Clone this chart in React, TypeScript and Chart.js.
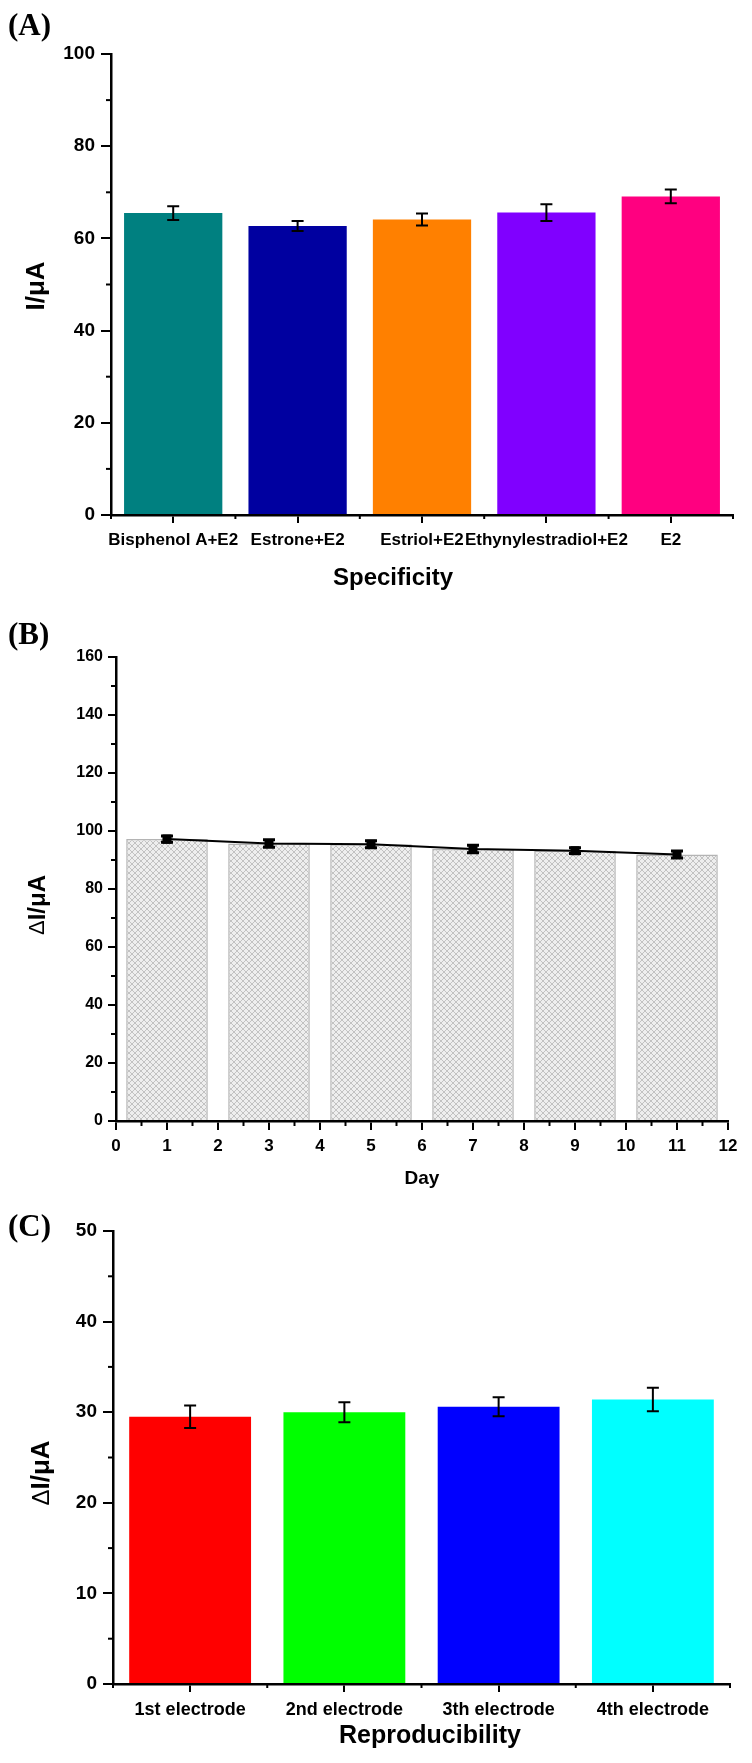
import React, { useEffect, useRef } from "react";
import { Chart, registerables } from "chart.js";

Chart.register(...registerables);

// ---------- data ----------
const specCategories = ["Bisphenol A+E2", "Estrone+E2", "Estriol+E2", "Ethynylestradiol+E2", "E2"];
const specValues = [65.5, 62.7, 64.1, 65.6, 69.1];
const specErrors = [1.5, 1.1, 1.3, 1.8, 1.5];
const specColors = ["#008080", "#0000A0", "#FF8000", "#8000FF", "#FF0080"];

const stabDays = [1, 3, 5, 7, 9, 11];
const stabValues = [97.2, 95.7, 95.4, 93.8, 93.2, 91.9];
const stabErrors = [1.1, 1.3, 1.2, 1.3, 1.0, 1.2];

const reproCategories = ["1st electrode", "2nd electrode", "3th electrode", "4th electrode"];
const reproValues = [29.5, 30.0, 30.6, 31.4];
const reproErrors = [1.25, 1.1, 1.05, 1.3];
const reproColors = ["#FF0000", "#00FF00", "#0000FF", "#00FFFF"];

const SANS = "'Liberation Sans', Arial, Helvetica, sans-serif";
const SERIF = "'Liberation Serif', 'Times New Roman', serif";

// ---------- plugins ----------
const minorTickPlugin = {
  id: "minorTicks",
  afterDraw(chart: any, _a: any, opts: any) {
    const { ctx, chartArea } = chart;
    const items = (opts && opts.items) || [];
    ctx.save();
    ctx.strokeStyle = "#000";
    ctx.lineWidth = 2;
    for (const it of items) {
      const scale = chart.scales[it.scale];
      for (let v = it.from; v <= it.to + 1e-9; v += it.step) {
        const p = scale.getPixelForValue(v);
        ctx.beginPath();
        if (scale.isHorizontal()) {
          ctx.moveTo(p, chartArea.bottom);
          ctx.lineTo(p, chartArea.bottom + it.length);
        } else {
          ctx.moveTo(chartArea.left, p);
          ctx.lineTo(chartArea.left - it.length, p);
        }
        ctx.stroke();
      }
    }
    ctx.restore();
  },
};

const errorBarPlugin = {
  id: "errorBars",
  afterDatasetsDraw(chart: any, _a: any, opts: any) {
    const ctx = chart.ctx;
    const cap = (opts && opts.cap) || 6;
    const lw = (opts && opts.width) || 2;
    chart.data.datasets.forEach((ds: any, di: number) => {
      const errs = ds.errors;
      if (!errs) return;
      const meta = chart.getDatasetMeta(di);
      const ys = chart.scales[meta.yAxisID];
      meta.data.forEach((el: any, i: number) => {
        const d = ds.data[i];
        const v = typeof d === "number" ? d : d.y;
        const e = errs[i];
        const x = el.x;
        const y1 = ys.getPixelForValue(v + e);
        const y2 = ys.getPixelForValue(v - e);
        ctx.save();
        ctx.strokeStyle = "#000";
        ctx.lineWidth = lw;
        ctx.beginPath();
        ctx.moveTo(x, y1);
        ctx.lineTo(x, y2);
        ctx.moveTo(x - cap, y1);
        ctx.lineTo(x + cap, y1);
        ctx.moveTo(x - cap, y2);
        ctx.lineTo(x + cap, y2);
        ctx.stroke();
        ctx.restore();
      });
    });
  },
};

const textPlugin = {
  id: "panelTexts",
  afterDraw(chart: any, _a: any, opts: any) {
    const ctx = chart.ctx;
    const items = (opts && opts.items) || [];
    for (const t of items) {
      ctx.save();
      ctx.translate(t.x, t.y);
      if (t.rotate) ctx.rotate(t.rotate);
      ctx.textBaseline = "middle";
      ctx.textAlign = "left";
      ctx.fillStyle = "#000";
      let total = 0;
      for (const s of t.segs) {
        ctx.font = s.font;
        total += ctx.measureText(s.text).width;
      }
      let x = t.align === "left" ? 0 : -total / 2;
      for (const s of t.segs) {
        ctx.font = s.font;
        ctx.fillText(s.text, x, 0);
        x += ctx.measureText(s.text).width;
      }
      ctx.restore();
    }
  },
};

function axisCommon(fontSize: number, tickLength: number, padding: number) {
  return {
    grid: {
      display: true,
      drawOnChartArea: false,
      drawTicks: true,
      tickLength,
      tickColor: "#000",
      tickWidth: 2,
      color: "#000",
      lineWidth: 2,
      offset: false,
    },
    border: { display: true, color: "#000", width: 2.5 },
    ticks: {
      color: "#000",
      font: { family: SANS, size: fontSize, weight: "bold" },
      padding,
      maxRotation: 0,
      minRotation: 0,
      autoSkip: false,
    },
  };
}

function deltaTitle(x: number, y: number, size: number) {
  return {
    x,
    y,
    rotate: -Math.PI / 2,
    segs: [
      { text: "Δ", font: `${size - 2}px ${SANS}` },
      { text: "I/μA", font: `bold ${size}px ${SANS}` },
    ],
  };
}

function configA() {
  const ax = axisCommon(17, 8, 7);
  const ay = axisCommon(19, 10, 6);
  return {
    type: "bar",
    data: {
      labels: specCategories,
      datasets: [
        {
          data: specValues,
          backgroundColor: specColors,
          errors: specErrors,
          barPercentage: 0.79,
          categoryPercentage: 1,
          borderWidth: 0,
        },
      ],
    },
    options: {
      animation: false,
      responsive: false,
      devicePixelRatio: 1,
      layout: { padding: { top: 54, right: 19, left: 0, bottom: 0 } },
      plugins: {
        legend: { display: false },
        tooltip: { enabled: false },
        minorTicks: {
          items: [
            { scale: "y", from: 10, to: 90, step: 20, length: 5 },
            { scale: "x", from: -0.5, to: 4.5, step: 1, length: 4 },
          ],
        },
        errorBars: { cap: 6, width: 2 },
        panelTexts: {
          items: [
            { x: 8, y: 27, align: "left", segs: [{ text: "(A)", font: `bold 31px ${SERIF}` }] },
            { x: 393, y: 578, segs: [{ text: "Specificity", font: `bold 24px ${SANS}` }] },
            { x: 37, y: 286, rotate: -Math.PI / 2, segs: [{ text: "I/μA", font: `bold 26px ${SANS}` }] },
          ],
        },
      },
      scales: {
        x: {
          type: "category",
          offset: true,
          ...ax,
          afterFit: (s: any) => {
            s.height = 85;
          },
        },
        y: {
          type: "linear",
          min: 0,
          max: 100,
          ...ay,
          ticks: { ...ay.ticks, stepSize: 20 },
          afterFit: (s: any) => {
            s.width = 111;
          },
        },
      },
    },
    plugins: [minorTickPlugin, errorBarPlugin, textPlugin],
  };
}

function makeHatch(): any {
  const c = document.createElement("canvas");
  c.width = 6;
  c.height = 6;
  const g = c.getContext("2d")!;
  g.fillStyle = "#eeeeee";
  g.fillRect(0, 0, 6, 6);
  g.strokeStyle = "#c2c2c2";
  g.lineWidth = 1;
  g.beginPath();
  g.moveTo(0, 0);
  g.lineTo(6, 6);
  g.moveTo(6, 0);
  g.lineTo(0, 6);
  g.stroke();
  return g.createPattern(c, "repeat");
}

function configB() {
  const ax = axisCommon(17, 9, 6);
  const ay = axisCommon(16, 8, 5);
  const pts = stabDays.map((d, i) => ({ x: d, y: stabValues[i] }));
  return {
    type: "bar",
    data: {
      datasets: [
        {
          type: "line",
          data: pts,
          borderColor: "#000",
          borderWidth: 2,
          pointStyle: "rect",
          pointRadius: 5,
          pointBackgroundColor: "#000",
          pointBorderColor: "#000",
          errors: stabErrors,
          order: 0,
        },
        {
          type: "bar",
          data: pts,
          backgroundColor: makeHatch(),
          borderColor: "#b4b4b4",
          borderWidth: 1.5,
          barPercentage: 1.6,
          categoryPercentage: 1,
          order: 1,
        },
      ],
    },
    options: {
      animation: false,
      responsive: false,
      devicePixelRatio: 1,
      layout: { padding: { top: 57, right: 24, left: 0, bottom: 0 } },
      plugins: {
        legend: { display: false },
        tooltip: { enabled: false },
        minorTicks: {
          items: [
            { scale: "y", from: 10, to: 150, step: 20, length: 5 },
            { scale: "x", from: 0.5, to: 11.5, step: 1, length: 5 },
          ],
        },
        errorBars: { cap: 6, width: 3 },
        panelTexts: {
          items: [
            { x: 8, y: 36, align: "left", segs: [{ text: "(B)", font: `bold 31px ${SERIF}` }] },
            { x: 422, y: 579, segs: [{ text: "Day", font: `bold 19px ${SANS}` }] },
            deltaTitle(38, 305, 24),
          ],
        },
      },
      scales: {
        x: {
          type: "linear",
          min: 0,
          max: 12,
          offset: false,
          ...ax,
          ticks: { ...ax.ticks, stepSize: 1 },
          afterFit: (s: any) => {
            s.height = 79;
          },
        },
        y: {
          type: "linear",
          min: 0,
          max: 160,
          ...ay,
          ticks: { ...ay.ticks, stepSize: 20 },
          afterFit: (s: any) => {
            s.width = 116;
          },
        },
      },
    },
    plugins: [minorTickPlugin, errorBarPlugin, textPlugin],
  };
}

function configC() {
  const ax = axisCommon(18, 8, 7);
  const ay = axisCommon(19, 10, 6);
  return {
    type: "bar",
    data: {
      labels: reproCategories,
      datasets: [
        {
          data: reproValues,
          backgroundColor: reproColors,
          errors: reproErrors,
          barPercentage: 0.79,
          categoryPercentage: 1,
          borderWidth: 0,
        },
      ],
    },
    options: {
      animation: false,
      responsive: false,
      devicePixelRatio: 1,
      layout: { padding: { top: 31, right: 22, left: 0, bottom: 0 } },
      plugins: {
        legend: { display: false },
        tooltip: { enabled: false },
        minorTicks: {
          items: [
            { scale: "y", from: 5, to: 45, step: 10, length: 5 },
            { scale: "x", from: -0.5, to: 3.5, step: 1, length: 4 },
          ],
        },
        errorBars: { cap: 6, width: 2 },
        panelTexts: {
          items: [
            { x: 8, y: 28, align: "left", segs: [{ text: "(C)", font: `bold 31px ${SERIF}` }] },
            { x: 430, y: 536, segs: [{ text: "Reproducibility", font: `bold 25px ${SANS}` }] },
            deltaTitle(42, 273, 26),
          ],
        },
      },
      scales: {
        x: {
          type: "category",
          offset: true,
          ...ax,
          afterFit: (s: any) => {
            s.height = 79;
          },
        },
        y: {
          type: "linear",
          min: 0,
          max: 50,
          ...ay,
          ticks: { ...ay.ticks, stepSize: 10 },
          afterFit: (s: any) => {
            s.width = 113;
          },
        },
      },
    },
    plugins: [minorTickPlugin, errorBarPlugin, textPlugin],
  };
}

function Panel({ top, height, make }: { top: number; height: number; make: () => any }) {
  const ref = useRef<HTMLCanvasElement>(null);
  useEffect(() => {
    const chart = new Chart(ref.current as HTMLCanvasElement, make());
    return () => chart.destroy();
  }, []);
  return (
    <canvas
      ref={ref}
      width={752}
      height={height}
      style={{ position: "absolute", left: 0, top, width: 752, height, display: "block" }}
    />
  );
}

export default function App() {
  return (
    <div style={{ position: "absolute", left: 0, top: 0, width: 752, height: 1763, background: "#fff" }}>
      <Panel top={0} height={600} make={configA} />
      <Panel top={600} height={600} make={configB} />
      <Panel top={1200} height={563} make={configC} />
    </div>
  );
}
